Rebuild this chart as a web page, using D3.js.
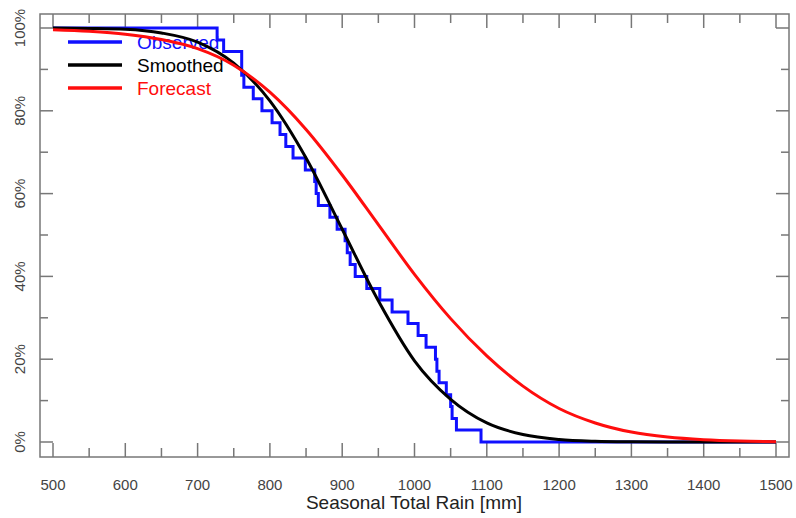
<!DOCTYPE html>
<html>
<head>
<meta charset="utf-8">
<script src="https://cdn.jsdelivr.net/npm/d3@7"></script>
<style>
  body { margin: 0; background: #fff; }
  svg { display: block; font-family: "Liberation Sans", Arial, sans-serif; }
</style>
</head>
<body>
<svg id="chart"></svg>
<script>
// observed exceedance steps (rain mm -> % of years above)
const obsRain = [500, 727, 736, 761, 764, 777, 789, 803, 814, 822, 832, 849, 862, 864, 867, 883, 893, 904, 907, 911, 918, 934, 952, 969, 991, 1005, 1016, 1029, 1031, 1034, 1044, 1050, 1052, 1058, 1092, 1500];
const obsPct = [100, 97.1, 94.3, 88.6, 85.7, 82.9, 80, 77.1, 74.3, 71.4, 68.6, 65.7, 62.9, 60, 57.1, 54.3, 51.4, 48.6, 45.7, 42.9, 40, 37.1, 34.3, 31.4, 28.6, 25.7, 22.9, 20, 17.1, 14.3, 11.4, 8.6, 5.7, 2.9, 0, 0];

// smoothed + forecast curves read on a common rain grid
const rainGrid = [500, 550, 600, 650, 700, 750, 800, 850, 900, 950, 1000, 1050, 1100, 1150, 1200, 1250, 1300, 1350, 1400, 1450, 1500];
const smoothedPct = [100, 99.9, 99.7, 98.8, 96.6, 91.5, 82.4, 68.6, 51.4, 34.1, 19.6, 10.3, 4.6, 1.8, 0.6, 0.18, 0.05, 0.01, 0, 0, 0];
const forecastPct = [99.6, 99.2, 98.5, 97.2, 95.0, 91.0, 84.5, 75.5, 64.5, 52.5, 40.5, 29.8, 20.8, 13.5, 8.1, 4.6, 2.4, 1.2, 0.55, 0.22, 0.08];

const xMajor = [500, 600, 700, 800, 900, 1000, 1100, 1200, 1300, 1400, 1500];
const xMinor = [550, 650, 750, 850, 950, 1050, 1150, 1250, 1350, 1450];
const yMajor = [0, 20, 40, 60, 80, 100];
const yMinor = [10, 30, 50, 70, 90];

const seriesNames = ['Observed', 'Smoothed', 'Forecast'];
const seriesColors = ['#1010ff', '#000000', '#ff0d0d'];

const width = 796, height = 518;
const frame = { left: 40, top: 14, right: 789, bottom: 457 };

const svg = d3.select('#chart').attr('width', width).attr('height', height);

const x = d3.scaleLinear().domain([500, 1500]).range([53, 776]);
const y = d3.scaleLinear().domain([0, 100]).range([442, 28]);

// frame
svg.append('rect')
  .attr('x', frame.left).attr('y', frame.top)
  .attr('width', frame.right - frame.left).attr('height', frame.bottom - frame.top)
  .attr('fill', 'none').attr('stroke', '#777').attr('stroke-width', 1.5);

const ticks = svg.append('g').attr('stroke', '#777').attr('stroke-width', 1.5);

function xTicks(vals, len) {
  vals.forEach(v => {
    ticks.append('line').attr('x1', x(v)).attr('x2', x(v)).attr('y1', frame.bottom).attr('y2', frame.bottom - len);
    ticks.append('line').attr('x1', x(v)).attr('x2', x(v)).attr('y1', frame.top).attr('y2', frame.top + len);
  });
}
function yTicks(vals, len) {
  vals.forEach(v => {
    ticks.append('line').attr('y1', y(v)).attr('y2', y(v)).attr('x1', frame.left).attr('x2', frame.left + len);
    ticks.append('line').attr('y1', y(v)).attr('y2', y(v)).attr('x1', frame.right).attr('x2', frame.right - len);
  });
}
xTicks(xMajor, 14);
xTicks(xMinor, 9);
yTicks(yMajor, 13);
yTicks(yMinor, 8);

// tick labels
svg.append('g').selectAll('text')
  .data(xMajor).enter().append('text')
  .attr('x', d => x(d)).attr('y', 490)
  .attr('text-anchor', 'middle')
  .attr('font-size', 15).attr('fill', '#444')
  .text(d => d);

svg.append('g').selectAll('text')
  .data(yMajor).enter().append('text')
  .attr('transform', d => 'translate(25,' + y(d) + ') rotate(-90)')
  .attr('text-anchor', 'middle')
  .attr('font-size', 15).attr('fill', '#444')
  .text(d => d + '%');

svg.append('text')
  .attr('x', 414).attr('y', 509)
  .attr('text-anchor', 'middle')
  .attr('font-size', 19).attr('fill', '#222')
  .text('Seasonal Total Rain [mm]');

// legend (drawn under the curves, like the original)
const legend = svg.append('g');
seriesNames.forEach((name, i) => {
  const ly = 42 + i * 23;
  legend.append('line')
    .attr('x1', 68).attr('x2', 122).attr('y1', ly).attr('y2', ly)
    .attr('stroke', seriesColors[i]).attr('stroke-width', 3.5);
  legend.append('text')
    .attr('x', 137).attr('y', ly + 7)
    .attr('font-size', 19).attr('fill', seriesColors[i])
    .text(name);
});

// curves
const stepLine = d3.line()
  .x(d => x(d[0])).y(d => y(d[1]))
  .curve(d3.curveStepAfter);

const smoothLine = d3.line()
  .x(d => x(d[0])).y(d => y(d[1]))
  .curve(d3.curveMonotoneX);

svg.append('path')
  .datum(d3.zip(obsRain, obsPct))
  .attr('d', stepLine)
  .attr('fill', 'none').attr('stroke', seriesColors[0]).attr('stroke-width', 3);

svg.append('path')
  .datum(d3.zip(rainGrid, smoothedPct))
  .attr('d', smoothLine)
  .attr('fill', 'none').attr('stroke', seriesColors[1]).attr('stroke-width', 3);

svg.append('path')
  .datum(d3.zip(rainGrid, forecastPct))
  .attr('d', smoothLine)
  .attr('fill', 'none').attr('stroke', seriesColors[2]).attr('stroke-width', 3);
</script>
</body>
</html>
